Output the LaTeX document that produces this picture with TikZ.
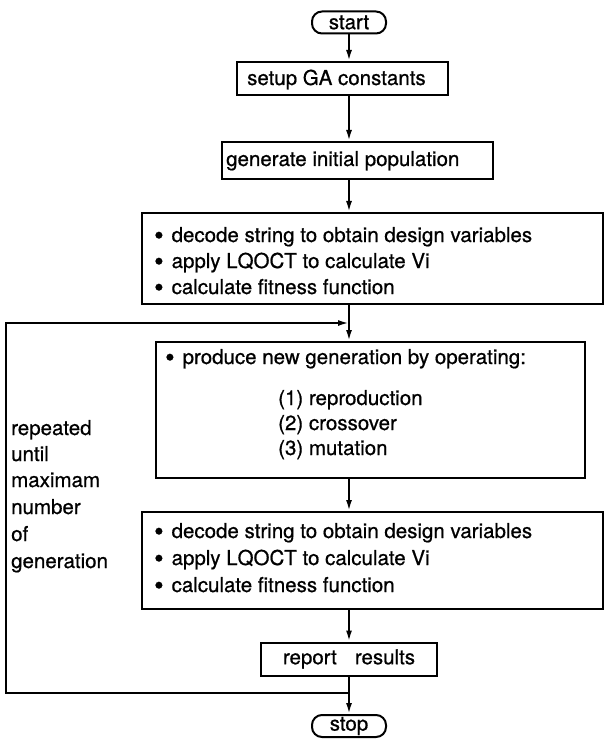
\documentclass[tikz,border=0pt]{standalone}
\usepackage{fontspec}
\setmainfont{TeX Gyre Heros}[FakeBold=0.7]
\usetikzlibrary{arrows.meta}
\newcommand\bul{\raisebox{-2.5pt}{\fontsize{27}{27}\selectfont\textbullet}\hspace{8pt}}
\begin{document}
\begin{tikzpicture}[x=1pt,y=-1pt,
  every node/.style={inner sep=0pt},
  box/.style={draw, line width=2pt},
  term/.style={draw, line width=2pt, rounded corners=10pt, minimum width=74pt, minimum height=22pt, font=\fontsize{20.5}{24}\selectfont},
  txt/.style={anchor=base west, font=\fontsize{20.5}{24}\selectfont},
  flow/.style={line width=2pt, -{Latex[length=11pt,width=6pt]}},
  plain/.style={line width=2pt}]
\useasboundingbox (0,0) rectangle (604,743);
% terminals
\node[term] (start) at (349,22.5) {start};
\node[term] (stop) at (349,726) {stop};
% boxes
\node[box, minimum width=211pt, minimum height=33pt] (setup) at (342.5,78.5) {};
\node[txt] (tsetup) at (247,85) {setup GA constants};
\node[box, minimum width=271pt, minimum height=37pt] (gen) at (357.5,160.5) {};
\node[txt] (tgen) at (226,166) {generate initial population};
\node[box, minimum width=461pt, minimum height=91pt] (ev1) at (372.5,258.5) {};
\node[txt] (ev1a) at (154,242) {\bul decode string to obtain design variables};
\node[txt] (ev1b) at (154,268) {\bul apply LQOCT to calculate Vi};
\node[txt] (ev1c) at (154,294) {\bul calculate fitness function};
\node[box, minimum width=429pt, minimum height=136pt] (op) at (370.5,410) {};
\node[txt] (opa) at (165,364) {\bul produce new generation by operating:};
\node[txt] (opb) at (278,405) {(1) reproduction};
\node[txt] (opc) at (278,430) {(2) crossover};
\node[txt] (opd) at (278,455) {(3) mutation};
\node[box, minimum width=461pt, minimum height=97pt] (ev2) at (372.5,560.5) {};
\node[txt] (ev2a) at (154,538) {\bul decode string to obtain design variables};
\node[txt] (ev2b) at (154,565) {\bul apply LQOCT to calculate Vi};
\node[txt] (ev2c) at (154,592) {\bul calculate fitness function};
\node[box, minimum width=176pt, minimum height=33pt, font=\fontsize{20.5}{24}\selectfont] (rep) at (349,659) {report\hspace{18pt}results};
% loop label
\node[txt] (la) at (11,435) {repeated};
\node[txt] (lb) at (11,461) {until};
\node[txt] (lc) at (11,487) {maximam};
\node[txt] (ld) at (11,514) {number};
\node[txt] (le) at (11,541) {of};
\node[txt] (lf) at (11,568) {generation};
% main flow
\draw[flow] (start.south) -- (start.south |- setup.north);
\draw[flow] (setup.south -| start) -- (start |- gen.north);
\draw[flow] (gen.south -| start) -- (start |- ev1.north);
\draw[flow] (ev1.south -| start) -- (start |- op.north);
\draw[flow] (op.south -| start) -- (start |- ev2.north);
\draw[flow] (ev2.south -| start) -- (start |- rep.north);
\draw[flow] (rep.south -| start) -- (stop.north);
% feedback loop
\coordinate (j1) at (349,323);
\coordinate (j2) at (349,693);
\coordinate (c1) at (6,693);
\coordinate (c2) at (6,323);
\draw[flow] (j2) -- (c1) -- (c2) -- (j1);
\end{tikzpicture}
\end{document}
